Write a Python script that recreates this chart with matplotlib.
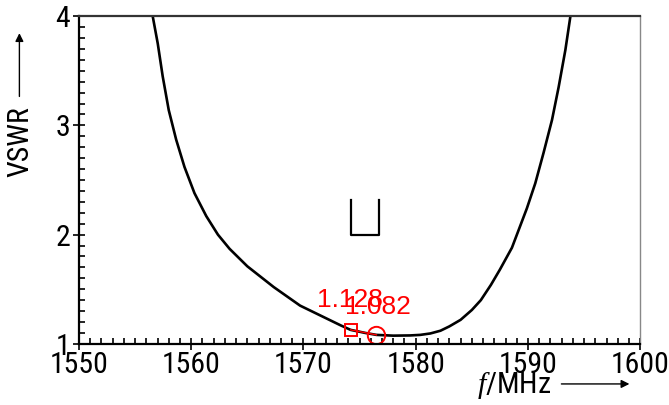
import matplotlib
matplotlib.use("Agg")
import matplotlib.pyplot as plt
from matplotlib import font_manager
from matplotlib.ticker import MultipleLocator

# pick a narrow sans if there is one
have = set(f.name for f in font_manager.fontManager.ttflist)
narrow = 'Liberation Sans'
for name in ['Liberation Sans Narrow', 'Arial Narrow', 'Roboto Condensed',
             'DejaVu Sans Condensed', 'Liberation Sans']:
    if name in have:
        narrow = name
        break
lblsize = 21.5 if narrow != 'Liberation Sans' else 18

plt.rcParams['font.family'] = [narrow, 'DejaVu Sans']
plt.rcParams['mathtext.fontset'] = 'custom'
plt.rcParams['mathtext.it'] = 'Liberation Serif:italic'
plt.rcParams['mathtext.rm'] = narrow

# VSWR curve
freq = [1556.57, 1557.02, 1557.46, 1558.0, 1558.66, 1559.4, 1560.29, 1561.34,
        1562.38, 1563.42, 1565.0, 1567.35, 1569.7, 1571.5, 1573.3, 1574.2,
        1575.5, 1576.5, 1578.0, 1579.5, 1580.4, 1581.3, 1582.2, 1583.0,
        1584.0, 1585.0, 1585.8, 1586.7, 1587.5, 1588.57, 1589.9, 1590.65,
        1591.39, 1592.14, 1592.73, 1593.33, 1593.78]
vswr = [4.0, 3.75, 3.45, 3.14, 2.87, 2.62, 2.38, 2.17,
        2.0, 1.87, 1.71, 1.52, 1.35, 1.26, 1.17, 1.128,
        1.10, 1.082, 1.075, 1.077, 1.082, 1.095, 1.12, 1.16,
        1.22, 1.31, 1.40, 1.54, 1.68, 1.88, 2.24, 2.47,
        2.75, 3.05, 3.35, 3.69, 4.0]

# markers
mark_f = [1574.2, 1576.5]
mark_v = [1.128, 1.082]
mark_lbl = ['1.128', '1.082']

# band bracket
band_f = [1574.2, 1574.2, 1576.7, 1576.7]
band_v = [2.32, 2.0, 2.0, 2.32]

fig = plt.figure(figsize=(6.69, 4.05), dpi=100)
ax = fig.add_axes([0.118, 0.151, 0.839, 0.809])

ax.plot(freq, vswr, color='black', linewidth=1.9, solid_joinstyle='round')
ax.plot(band_f, band_v, color='black', linewidth=1.6)

ax.plot(mark_f, mark_v, color='red', linewidth=1.0)
ax.plot(mark_f[0], mark_v[0], marker='s', markersize=9, markerfacecolor='none',
        markeredgecolor='red', markeredgewidth=1.4, linestyle='none')
ax.plot(mark_f[1], mark_v[1], marker='o', markersize=12.5, markerfacecolor='none',
        markeredgecolor='red', markeredgewidth=1.4, linestyle='none')
ax.text(mark_f[0] - 0.05, mark_v[0] + 0.16, mark_lbl[0], color='red', fontsize=19,
        family='Liberation Sans', ha='center', va='bottom')
ax.text(mark_f[1] + 0.1, mark_v[1] + 0.15, mark_lbl[1], color='red', fontsize=19,
        family='Liberation Sans', ha='center', va='bottom')

ax.set_xlim(1550, 1600)
ax.set_ylim(1, 4)
ax.set_xticks([1550, 1560, 1570, 1580, 1590, 1600])
ax.set_yticks([1, 2, 3, 4])
ax.xaxis.set_minor_locator(MultipleLocator(1))
ax.yaxis.set_minor_locator(MultipleLocator(0.1))
ax.tick_params(which='major', direction='inout', length=9, width=1.2,
               labelsize=lblsize, pad=1)
ax.tick_params(which='minor', direction='in', length=4, width=1.2)
ax.tick_params(axis='y', pad=2)

for s in ['left', 'bottom', 'top']:
    ax.spines[s].set_linewidth(1.6)
    ax.spines[s].set_color('black')
ax.spines['top'].set_color('#333333')
ax.spines['right'].set_color('#888888')
ax.spines['right'].set_linewidth(1.0)

# axis labels with arrows
fig.text(0.030, 0.65, 'VSWR', rotation=90, fontsize=lblsize, ha='center', va='center')
ax.annotate('', xy=(0.029, 0.925), xytext=(0.029, 0.755), xycoords='figure fraction',
            arrowprops=dict(arrowstyle='-|>', color='black', lw=1.0, mutation_scale=12))
fig.text(0.768, 0.048, '$f$/MHz', fontsize=lblsize, ha='center', va='center')
ax.annotate('', xy=(0.945, 0.052), xytext=(0.835, 0.052), xycoords='figure fraction',
            arrowprops=dict(arrowstyle='-|>', color='black', lw=1.0, mutation_scale=12))

fig.savefig('out.png', dpi=100, facecolor='white')
